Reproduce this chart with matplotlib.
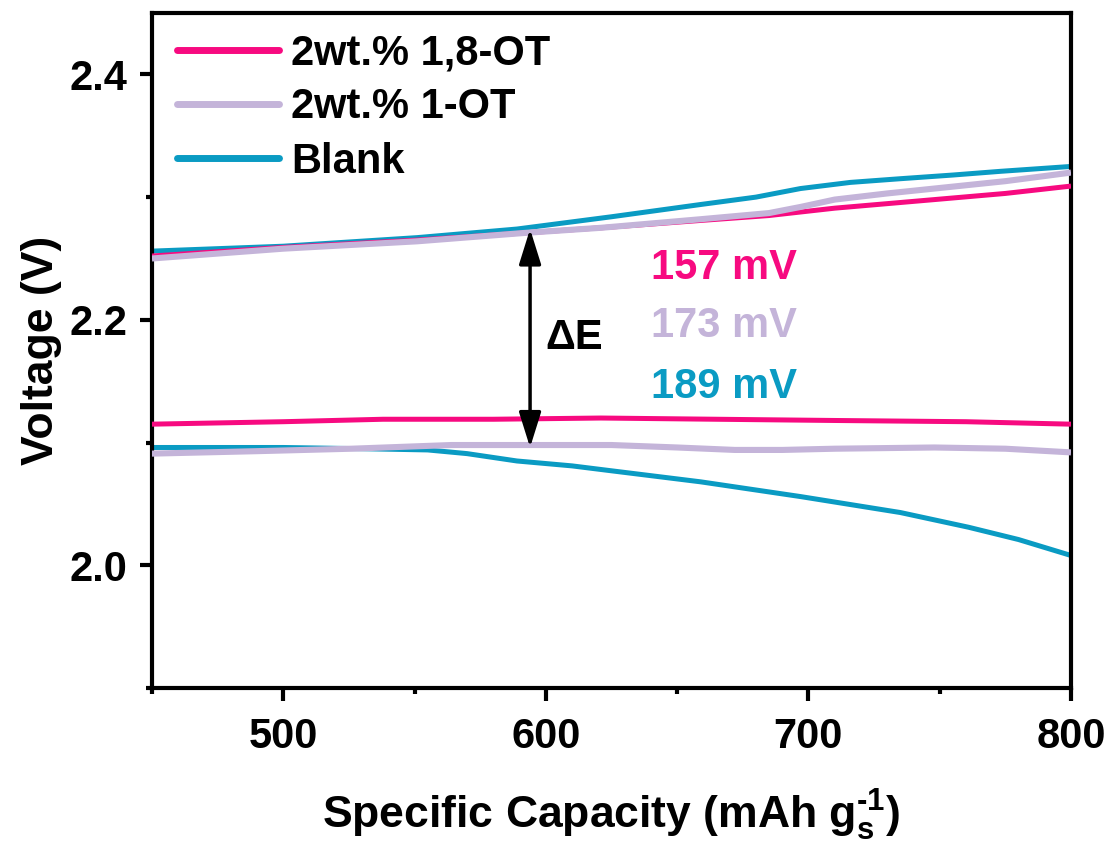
import matplotlib
matplotlib.use("Agg")
import matplotlib.pyplot as plt
from matplotlib.ticker import MultipleLocator, FormatStrFormatter

plt.rcParams['font.family'] = ['Liberation Sans', 'DejaVu Sans']
plt.rcParams['font.weight'] = 'bold'
plt.rcParams['mathtext.fontset'] = 'custom'
plt.rcParams['mathtext.rm'] = 'Liberation Sans:bold'
plt.rcParams['mathtext.it'] = 'Liberation Sans:bold'
plt.rcParams['mathtext.bf'] = 'Liberation Sans:bold'

# ---- data ----
labels = ["2wt.% 1,8-OT", "2wt.% 1-OT", "Blank"]
colors = ["#F70A80", "#C4B4D9", "#0A9BC3"]

cap_up_18 = [450, 500, 551, 593, 621, 659, 685, 710, 748, 775, 800]
v_up_18 = [2.252, 2.259, 2.265, 2.271, 2.275, 2.281, 2.285, 2.291, 2.298, 2.303, 2.309]
cap_lo_18 = [450, 500, 538, 580, 621, 665, 710, 760, 800]
v_lo_18 = [2.115, 2.117, 2.119, 2.119, 2.120, 2.119, 2.118, 2.117, 2.115]

cap_up_1 = [450, 500, 551, 593, 621, 659, 685, 697, 710, 730, 748, 775, 800]
v_up_1 = [2.250, 2.258, 2.264, 2.271, 2.275, 2.282, 2.287, 2.292, 2.298, 2.303, 2.307, 2.313, 2.320]
cap_lo_1 = [450, 490, 526, 564, 600, 625, 650, 672, 690, 710, 748, 775, 800]
v_lo_1 = [2.091, 2.093, 2.095, 2.098, 2.098, 2.098, 2.096, 2.094, 2.094, 2.095, 2.096, 2.095, 2.092]

cap_up_b = [450, 500, 551, 589, 625, 659, 680, 697, 716, 735, 755, 773, 800]
v_up_b = [2.256, 2.260, 2.267, 2.274, 2.284, 2.294, 2.300, 2.307, 2.312, 2.315, 2.318, 2.321, 2.325]
cap_lo_b = [450, 500, 530, 555, 570, 589, 610, 625, 659, 697, 735, 761, 780, 800]
v_lo_b = [2.096, 2.096, 2.095, 2.094, 2.091, 2.085, 2.081, 2.077, 2.068, 2.056, 2.043, 2.031, 2.021, 2.008]

gap_texts = ["157 mV", "173 mV", "189 mV"]
gap_text_y = [2.242, 2.195, 2.145]

arrow_x = 594
arrow_top = 2.274
arrow_bottom = 2.096

# ---- figure ----
fig = plt.figure(figsize=(11.14, 8.41), dpi=100)
ax = fig.add_axes([0.1364, 0.1819, 0.8250, 0.8026])

lw = 3.6
kw = dict(solid_joinstyle='round', solid_capstyle='butt')
l_b, = ax.plot(cap_up_b, v_up_b, color=colors[2], lw=lw, zorder=2, **kw)
ax.plot(cap_lo_b, v_lo_b, color=colors[2], lw=lw, zorder=2, **kw)
l_18, = ax.plot(cap_up_18, v_up_18, color=colors[0], lw=lw, zorder=3, **kw)
ax.plot(cap_lo_18, v_lo_18, color=colors[0], lw=lw, zorder=3, **kw)
l_1, = ax.plot(cap_up_1, v_up_1, color=colors[1], lw=lw + 0.8, zorder=4, **kw)
ax.plot(cap_lo_1, v_lo_1, color=colors[1], lw=lw + 0.8, zorder=4, **kw)

ax.set_xlim(450, 800)
ax.set_ylim(1.9, 2.45)

ax.xaxis.set_major_locator(MultipleLocator(100))
ax.xaxis.set_minor_locator(MultipleLocator(50))
ax.yaxis.set_major_locator(MultipleLocator(0.2))
ax.yaxis.set_minor_locator(MultipleLocator(0.1))
ax.yaxis.set_major_formatter(FormatStrFormatter('%.1f'))

for s in ax.spines.values():
    s.set_linewidth(3)
ax.tick_params(which='major', direction='out', length=9, width=3, labelsize=30, pad=9)
ax.tick_params(axis='x', which='major', pad=12)
ax.tick_params(which='minor', direction='out', length=4, width=3)
ax.tick_params(top=False, right=False, which='both')

ax.set_xlabel(r"Specific Capacity (mAh $\mathrm{g_{s}^{\text{-}1}}$)", fontsize=32,
              fontweight='bold', labelpad=22)
ax.set_ylabel("Voltage (V)", fontsize=32, fontweight='bold', labelpad=5)

# arrow
ax.annotate("", xy=(arrow_x, arrow_top), xytext=(arrow_x, arrow_bottom),
            arrowprops=dict(arrowstyle='<|-|>,head_length=0.8,head_width=0.25',
                            mutation_scale=27, lw=2.5, color='black',
                            shrinkA=0, shrinkB=0), zorder=5)
ax.text(600, 2.1854, "ΔE", fontsize=30, fontweight='bold', va='center', ha='left')

for t, y, c in zip(gap_texts, gap_text_y, colors):
    ax.text(640, y, t, fontsize=30, fontweight='bold', color=c, va='center', ha='left')

leg = ax.legend([l_18, l_1, l_b], labels, loc='upper left', frameon=False,
                fontsize=30, handlelength=2.45, handletextpad=0.3, labelspacing=0.34,
                borderpad=0, borderaxespad=0, bbox_to_anchor=(0.027, 0.97))
for h in leg.legend_handles:
    h.set_linewidth(5)
    h.set_solid_capstyle('round')

fig.savefig("out.png", dpi=100)
